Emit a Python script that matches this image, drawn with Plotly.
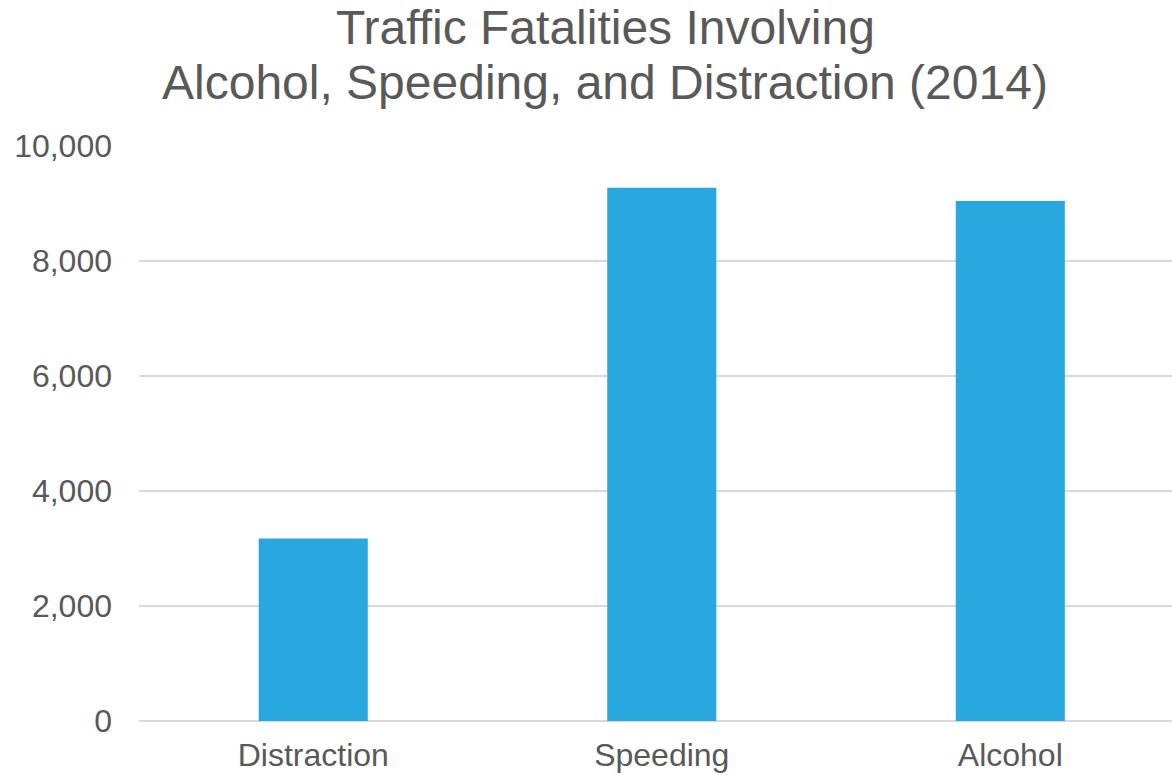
import plotly.graph_objects as go

categories = ["Distraction", "Speeding", "Alcohol"]
fatalities = [3174, 9274, 9043]
y_ticks = [0, 2000, 4000, 6000, 8000, 10000]
y_tick_labels = ["0", "2,000", "4,000", "6,000", "8,000", "10,000"]
title_lines = ["Traffic Fatalities Involving", "Alcohol, Speeding, and Distraction (2014)"]

TEXT = "#595959"
BAR = "#29A8E0"
GRID = "#D9D9D9"
FONT = "Liberation Sans, Arial, sans-serif"

W, H = 1172, 775
ml, mr, mt, mb = 139, 0, 146, 54
plot_h = H - mt - mb

fig = go.Figure(go.Bar(x=categories, y=fatalities, marker=dict(color=BAR, line=dict(width=0)), width=0.313))

def py(pix):
    return (H - mb - pix) / plot_h

fig.update_layout(
    width=W, height=H,
    margin=dict(l=ml, r=mr, t=mt, b=mb),
    plot_bgcolor="white", paper_bgcolor="white",
    showlegend=False,
    font=dict(family=FONT, color=TEXT, size=32),
    xaxis=dict(range=[-0.5, 2.464], showgrid=False, showline=False, zeroline=False,
               ticks="", tickfont=dict(size=32, color=TEXT), ticklabelstandoff=12),
    yaxis=dict(range=[0, 10000], tickvals=y_ticks, ticktext=y_tick_labels,
               showgrid=True, gridcolor=GRID, gridwidth=1.5, zeroline=True,
               zerolinecolor=GRID, zerolinewidth=1.5, showline=False, ticks="",
               tickfont=dict(size=32, color=TEXT), ticklabelstandoff=26),
    annotations=[
        dict(text=title_lines[0], xref="paper", yref="paper", x=(605 - ml) / (W - ml), y=py(45),
             xanchor="center", yanchor="bottom", showarrow=False, yshift=-11,
             font=dict(size=48, color=TEXT, family=FONT)),
        dict(text=title_lines[1], xref="paper", yref="paper", x=(605 - ml) / (W - ml), y=py(100),
             xanchor="center", yanchor="bottom", showarrow=False, yshift=-11,
             font=dict(size=48, color=TEXT, family=FONT)),
    ],
)

fig.write_html("out.html")
